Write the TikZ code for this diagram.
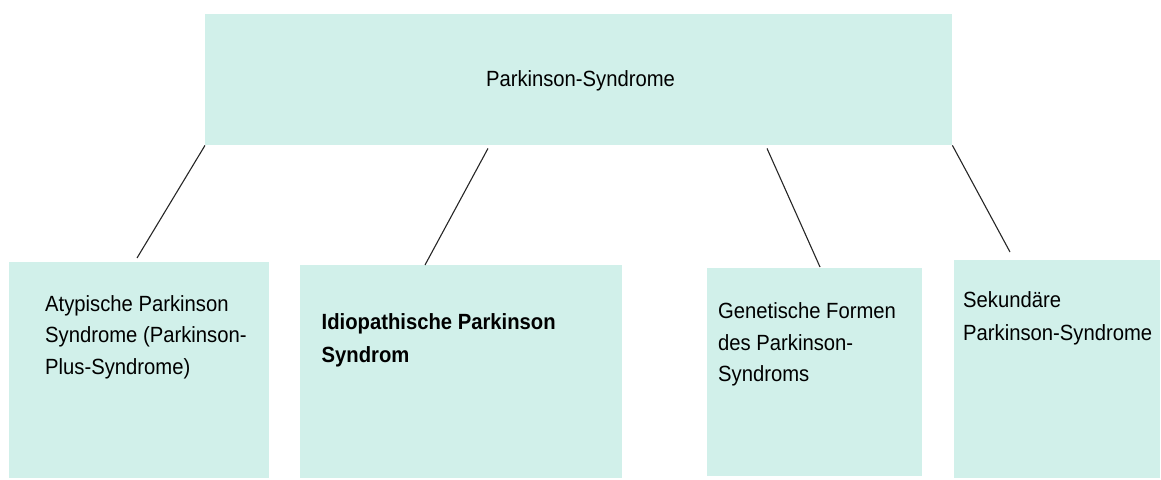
\documentclass[tikz,border=0pt]{standalone}
\usepackage{fontspec}
\setmainfont[FakeStretch=0.92]{Liberation Sans}
\usetikzlibrary{calc}
\begin{document}
\begin{tikzpicture}[x=1pt,y=-1pt,
  box/.style={fill=boxfill, draw=none, inner sep=0pt, anchor=north west},
  lbl/.style={anchor=base west, inner sep=0pt, align=left, font=\fontsize{22}{31.5}\selectfont},
  conn/.style={draw=black!85, line width=1.1pt}]
\definecolor{boxfill}{HTML}{D1F0EA}
\useasboundingbox (0,0) rectangle (1161,479);
\node[box, minimum width=747, minimum height=131] (top) at (205,14) {};
\node[box, minimum width=260, minimum height=216] (b1) at (9,262) {};
\node[box, minimum width=322, minimum height=213] (b2) at (300,265) {};
\node[box, minimum width=215, minimum height=208] (b3) at (707,268) {};
\node[box, minimum width=206, minimum height=218] (b4) at (954,260) {};
\node[anchor=base, inner sep=0pt, font=\fontsize{22}{26}\selectfont] (tt) at (580.5,86) {Parkinson-Syndrome};
\node[lbl] (t1) at (45,374) {Atypische Parkinson\\Syndrome (Parkinson-\\Plus-Syndrome)};
\node[lbl, font=\bfseries\fontsize{22}{33.5}\selectfont] (t2) at (321.5,362.5) {Idiopathische Parkinson\\Syndrom};
\node[lbl, font=\fontsize{22}{31.7}\selectfont] (t3) at (718,381.7) {Genetische Formen\\des Parkinson-\\Syndroms};
\node[lbl, font=\fontsize{22}{32.7}\selectfont] (t4) at (963,340) {Sekundäre\\Parkinson-Syndrome};
\coordinate (e1) at ($(b1.north west)+(128,-4)$);
\coordinate (s2) at ($(top.south west)+(283,3)$);
\coordinate (e2) at ($(b2.north west)+(125,0)$);
\coordinate (s3) at ($(top.south west)+(562,3)$);
\coordinate (e3) at ($(b3.north west)+(113,-1)$);
\coordinate (e4) at ($(b4.north west)+(56,-8)$);
\draw[conn] (top.south west) -- (e1);
\draw[conn] (s2) -- (e2);
\draw[conn] (s3) -- (e3);
\draw[conn] (top.south east) -- (e4);
\end{tikzpicture}
\end{document}
